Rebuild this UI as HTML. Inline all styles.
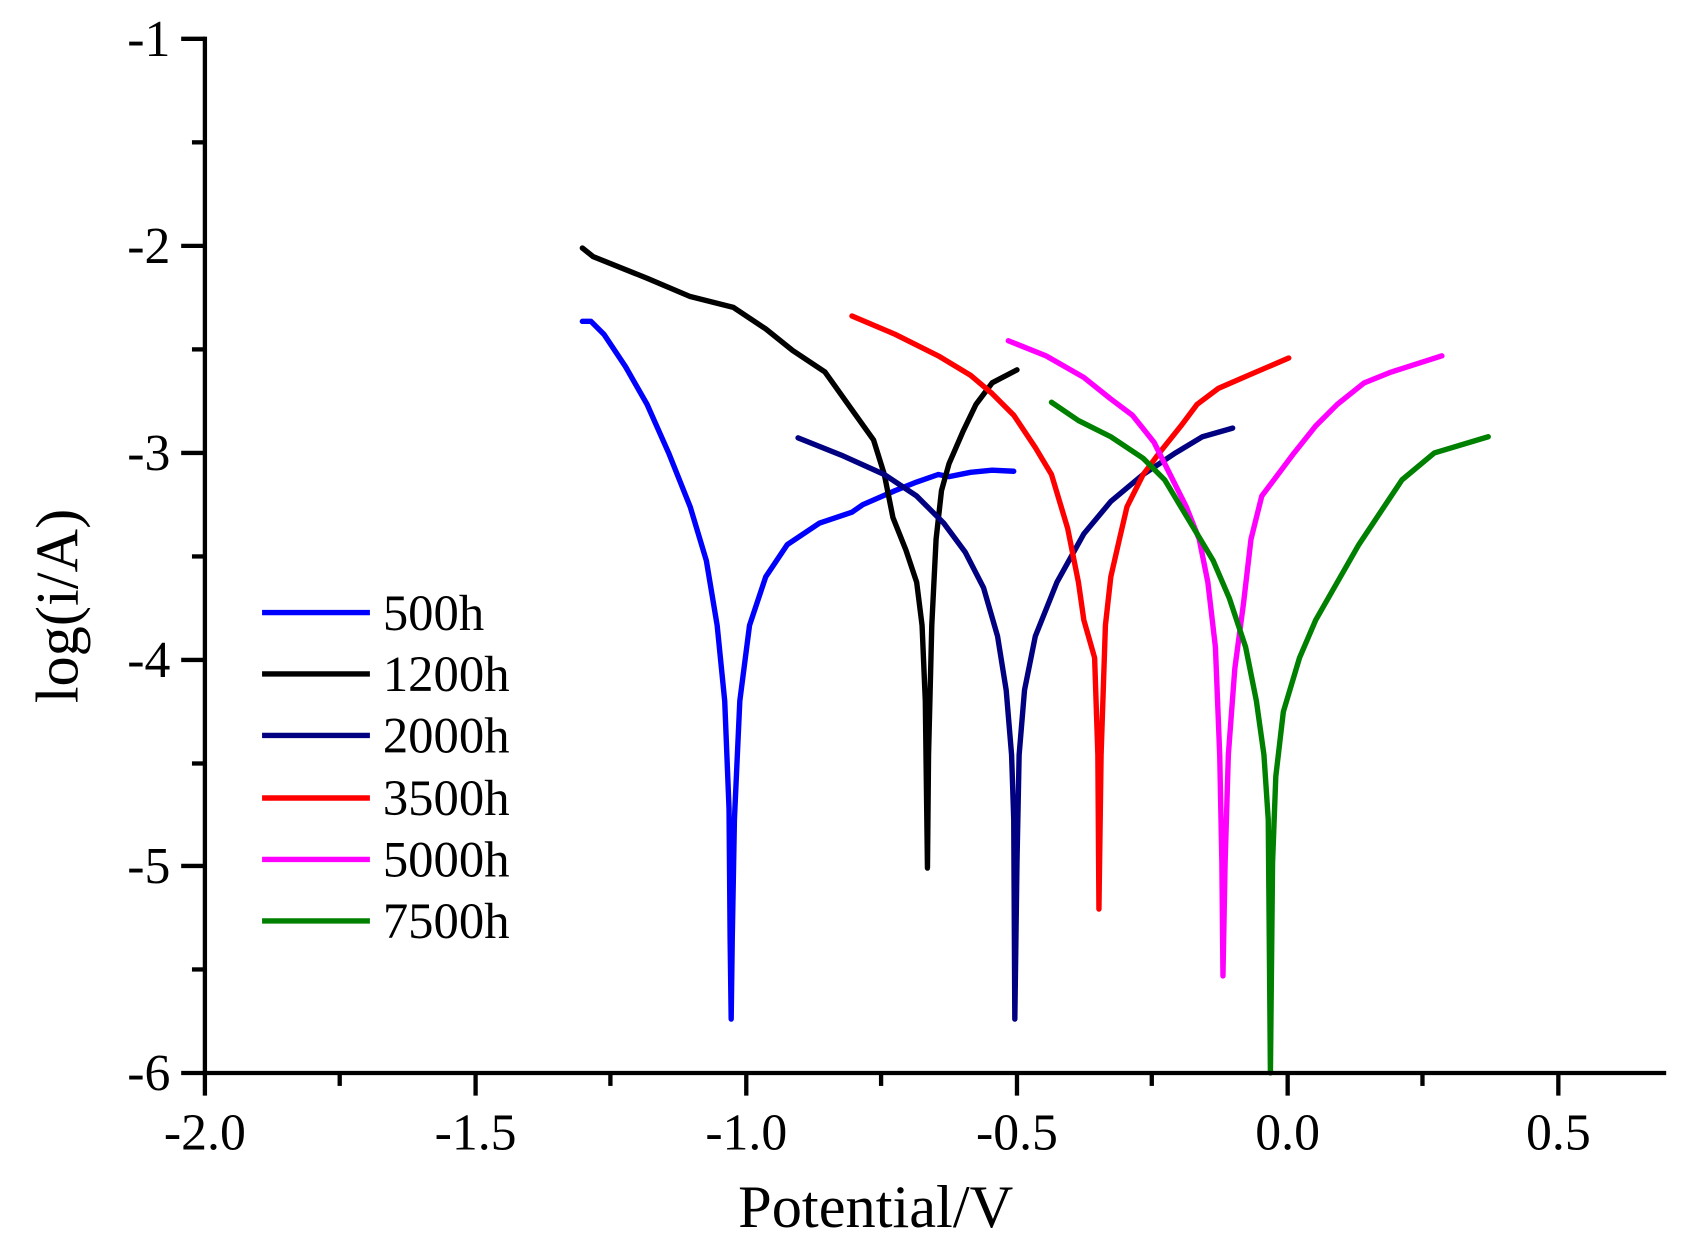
<!DOCTYPE html>
<html><head><meta charset="utf-8"><style>
html,body{margin:0;padding:0;background:#fff;}
svg{display:block;}
text{font-family:"Liberation Serif",serif;fill:#000;}
</style></head><body>
<svg width="1691" height="1259" viewBox="0 0 1568 1167.5" preserveAspectRatio="none" xmlns="http://www.w3.org/2000/svg">
<rect width="1568" height="1167.5" fill="#fff"/>
<g fill="none" stroke-width="5" stroke-linejoin="round" stroke-linecap="round">
<polyline stroke="#0000ff" points="540,298 548,298 560,310 580,340 600,375 620,420 640,470 655,520 665,580 672,650 676,750 677,870 678,945 679,870 681,760 686,650 695,580 710,535 730,505 760,485 790,475 800,468 830,455 850,447 870,440 880,442 900,438 920,436 940,437"/>
<polyline stroke="#000000" points="540,230 550,238 600,258 640,275 680,285 710,305 735,325 765,345 790,380 810,408 820,440 828,480 840,510 850,540 855,580 858,650 860,805 861,700 864,580 868,500 873,455 880,430 893,400 905,375 920,355 943,343"/>
<polyline stroke="#000080" points="740,406 780,422 820,440 850,460 875,485 895,512 912,545 925,590 933,640 938,700 940,760 941,945 943,800 945,700 950,640 960,590 980,540 1005,495 1030,465 1060,440 1090,420 1115,405 1143,397"/>
<polyline stroke="#ff0000" points="790,293 830,310 870,330 900,348 920,365 940,385 960,415 975,440 990,490 1000,540 1005,575 1015,610 1018,700 1019,843 1021,700 1025,580 1030,535 1038,500 1045,470 1060,440 1075,420 1095,395 1110,375 1130,360 1160,347 1195,332"/>
<polyline stroke="#ff00ff" points="935,316 970,330 1005,350 1030,370 1050,385 1070,410 1085,440 1100,470 1112,500 1120,540 1127,600 1131,700 1133,800 1134,905 1136,800 1139,700 1145,620 1153,560 1160,500 1170,460 1185,440 1200,420 1220,395 1240,375 1265,355 1290,345 1337,330"/>
<polyline stroke="#008000" points="975,373 1000,390 1030,405 1060,425 1080,445 1095,470 1110,495 1125,520 1140,555 1155,600 1165,650 1172,700 1176,760 1178,995 1180,800 1183,720 1190,660 1205,610 1220,575 1240,540 1260,505 1280,475 1300,445 1330,420 1380,405"/>
</g>
<g stroke="#000" stroke-width="4" fill="none">
<line x1="190" y1="34" x2="190" y2="997"/>
<line x1="188" y1="995" x2="1545" y2="995"/>
<line x1="168" y1="36" x2="190" y2="36"/><line x1="178" y1="132" x2="190" y2="132"/>
<line x1="168" y1="228" x2="190" y2="228"/><line x1="178" y1="324" x2="190" y2="324"/>
<line x1="168" y1="420" x2="190" y2="420"/><line x1="178" y1="516" x2="190" y2="516"/>
<line x1="168" y1="612" x2="190" y2="612"/><line x1="178" y1="708" x2="190" y2="708"/>
<line x1="168" y1="803" x2="190" y2="803"/><line x1="178" y1="899" x2="190" y2="899"/>
<line x1="168" y1="995" x2="190" y2="995"/>
<line x1="190" y1="995" x2="190" y2="1016"/><line x1="315" y1="995" x2="315" y2="1007"/>
<line x1="441" y1="995" x2="441" y2="1016"/><line x1="566" y1="995" x2="566" y2="1007"/>
<line x1="692" y1="995" x2="692" y2="1016"/><line x1="817" y1="995" x2="817" y2="1007"/>
<line x1="943" y1="995" x2="943" y2="1016"/><line x1="1068" y1="995" x2="1068" y2="1007"/>
<line x1="1194" y1="995" x2="1194" y2="1016"/><line x1="1319" y1="995" x2="1319" y2="1007"/>
<line x1="1445" y1="995" x2="1445" y2="1016"/>
</g>
<g font-size="48" text-anchor="end">
<text x="158" y="52">-1</text><text x="158" y="244">-2</text><text x="158" y="436">-3</text>
<text x="158" y="628">-4</text><text x="158" y="819">-5</text><text x="158" y="1011">-6</text>
</g>
<g font-size="48" text-anchor="middle">
<text x="190" y="1066">-2.0</text><text x="441" y="1066">-1.5</text><text x="692" y="1066">-1.0</text>
<text x="943" y="1066">-0.5</text><text x="1194" y="1066">0.0</text><text x="1445" y="1066">0.5</text>
</g>
<text x="812" y="1138" font-size="56" text-anchor="middle">Potential/V</text>
<text transform="translate(72,562) rotate(-90)" font-size="56" text-anchor="middle">log(i/A)</text>
<g stroke-width="5">
<line x1="243" y1="568" x2="343" y2="568" stroke="#0000ff"/>
<line x1="243" y1="625" x2="343" y2="625" stroke="#000"/>
<line x1="243" y1="682" x2="343" y2="682" stroke="#000080"/>
<line x1="243" y1="740" x2="343" y2="740" stroke="#ff0000"/>
<line x1="243" y1="797" x2="343" y2="797" stroke="#ff00ff"/>
<line x1="243" y1="854" x2="343" y2="854" stroke="#008000"/>
</g>
<g font-size="47">
<text x="355" y="584">500h</text><text x="355" y="641">1200h</text><text x="355" y="698">2000h</text>
<text x="355" y="756">3500h</text><text x="355" y="813">5000h</text><text x="355" y="870">7500h</text>
</g>
</svg>
</body></html>
